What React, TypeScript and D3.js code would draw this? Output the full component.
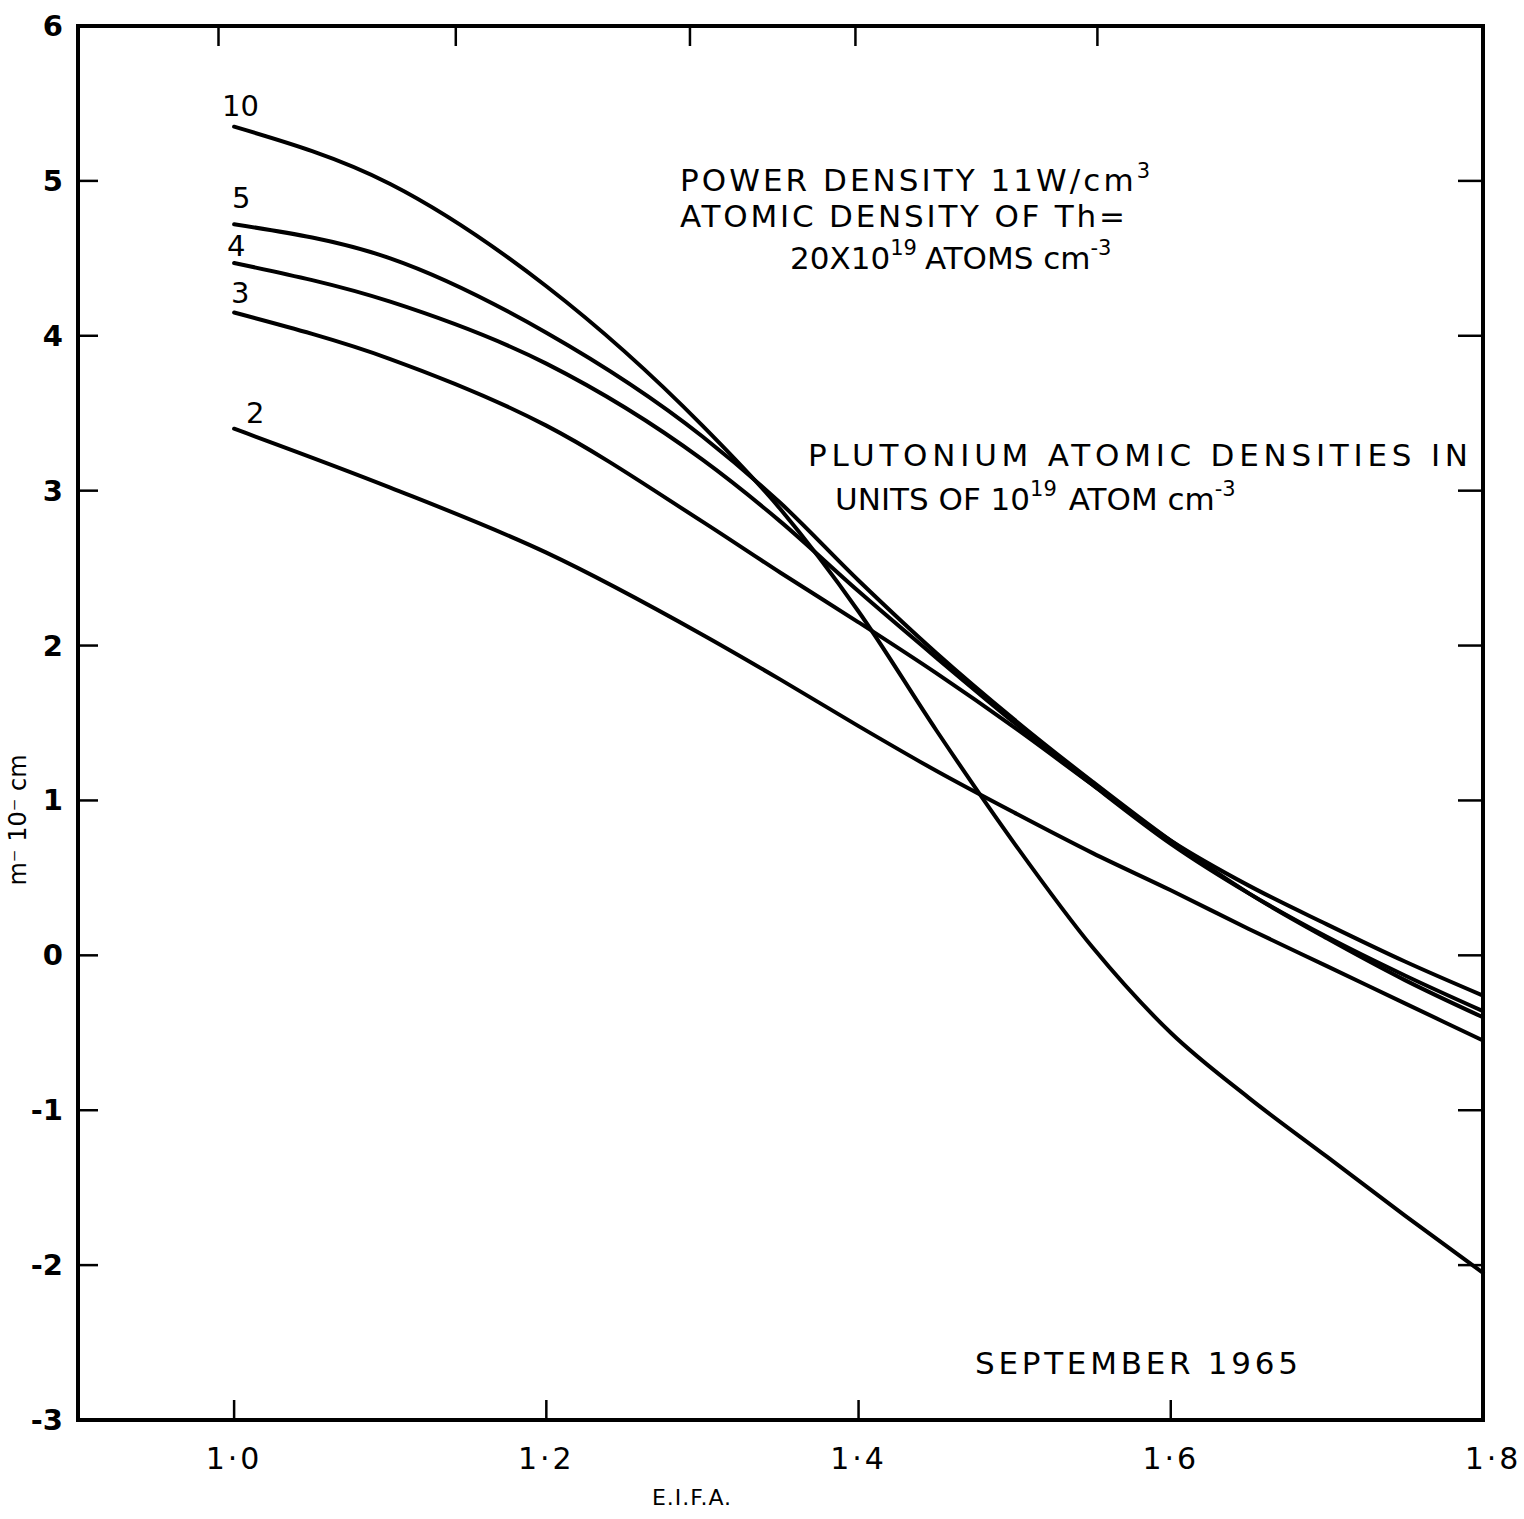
import React from "react";
import * as d3 from "d3";

const xs = [1.0, 1.1, 1.2, 1.3, 1.35, 1.4, 1.45, 1.5, 1.55, 1.6, 1.65, 1.7, 1.75, 1.8];
const curve10 = [5.35, 4.98, 4.32, 3.42, 2.88, 2.22, 1.45, 0.72, 0.05, -0.5, -0.92, -1.3, -1.68, -2.05];
const curve5 = [4.72, 4.5, 4.02, 3.35, 2.92, 2.42, 1.95, 1.52, 1.12, 0.74, 0.4, 0.11, -0.16, -0.4];
const curve4 = [4.47, 4.22, 3.82, 3.2, 2.8, 2.35, 1.92, 1.5, 1.1, 0.72, 0.4, 0.12, -0.13, -0.36];
const curve3 = [4.15, 3.85, 3.42, 2.8, 2.47, 2.15, 1.82, 1.47, 1.1, 0.74, 0.45, 0.2, -0.04, -0.26];
const curve2 = [3.4, 3.02, 2.6, 2.07, 1.78, 1.48, 1.19, 0.92, 0.66, 0.42, 0.17, -0.07, -0.31, -0.55];
const seriesNames = ["10", "5", "4", "3", "2"];
const seriesValues = [curve10, curve5, curve4, curve3, curve2];

const bottomTicks = [1.0, 1.2, 1.4, 1.6];
const bottomTickLabels = ["1·0", "1·2", "1·4", "1·6"];
const lastTickLabel = "1·8";
const topTicks = [0.99, 1.142, 1.292, 1.398, 1.553];
const yTicks = [6, 5, 4, 3, 2, 1, 0, -1, -2, -3];
const yTickLabels = ["6", "5", "4", "3", "2", "1", "0", "-1", "-2", "-3"];

const W = 1524;
const H = 1519;
const x = d3.scaleLinear().domain([0.9, 1.8]).range([78, 1483]);
const y = d3.scaleLinear().domain([-3, 6]).range([1420, 26]);

const FONT = "'DejaVu Sans', sans-serif";

export default function App() {
  const line = d3
    .line<number>()
    .x((_, i) => x(xs[i]))
    .y((d) => y(d))
    .curve(d3.curveMonotoneX);

  const labelPos: Record<string, [number, number]> = {
    "10": [222, 116],
    "5": [232, 208],
    "4": [227, 256],
    "3": [231, 303],
    "2": [246, 423],
  };

  return (
    <svg
      width={W}
      height={H}
      style={{ position: "absolute", left: 0, top: 0, background: "#fff" }}
      fontFamily={FONT}
    >
      <rect x={0} y={0} width={W} height={H} fill="#fff" />
      {/* frame */}
      <rect
        x={x(0.9)}
        y={y(6)}
        width={x(1.8) - x(0.9)}
        height={y(-3) - y(6)}
        fill="none"
        stroke="#000"
        strokeWidth={4}
      />
      {/* left & right ticks */}
      {yTicks.map((t) => (
        <g key={"yt" + t}>
          <line x1={x(0.9)} x2={x(0.9) + 20} y1={y(t)} y2={y(t)} stroke="#000" strokeWidth={2.5} />
          <line x1={x(1.8)} x2={x(1.8) - 25} y1={y(t)} y2={y(t)} stroke="#000" strokeWidth={2.5} />
        </g>
      ))}
      {yTicks.map((t, i) => (
        <text
          key={"yl" + t}
          x={63}
          y={y(t)}
          textAnchor="end"
          dominantBaseline="central"
          fontSize={29}
          fontWeight="bold"
        >
          {yTickLabels[i]}
        </text>
      ))}
      {/* bottom ticks */}
      {bottomTicks.map((t, i) => (
        <g key={"xb" + t}>
          <line x1={x(t)} x2={x(t)} y1={y(-3)} y2={y(-3) - 20} stroke="#000" strokeWidth={2.5} />
          <text x={x(t)} y={1469} textAnchor="middle" fontSize={30} letterSpacing={3}>
            {bottomTickLabels[i]}
          </text>
        </g>
      ))}
      <text x={x(1.8) + 10} y={1469} textAnchor="middle" fontSize={30} letterSpacing={3}>
        {lastTickLabel}
      </text>
      {/* top ticks */}
      {topTicks.map((t) => (
        <line key={"xt" + t} x1={x(t)} x2={x(t)} y1={y(6)} y2={y(6) + 20} stroke="#000" strokeWidth={2.5} />
      ))}
      {/* x axis title */}
      <text x={692} y={1505} textAnchor="middle" fontSize={22} letterSpacing={1}>
        E.I.F.A.
      </text>
      {/* y axis title (partially visible in source) */}
      <text
        transform={`translate(26, 820) rotate(-90)`}
        textAnchor="middle"
        fontSize={24}
      >
        m⁻ 10⁻ cm
      </text>
      {/* curves */}
      {seriesValues.map((vals, i) => (
        <path
          key={"c" + seriesNames[i]}
          d={line(vals) || ""}
          fill="none"
          stroke="#000"
          strokeWidth={4}
          strokeLinecap="round"
        />
      ))}
      {seriesNames.map((n) => (
        <text key={"lab" + n} x={labelPos[n][0]} y={labelPos[n][1]} fontSize={29}>
          {n}
        </text>
      ))}
      {/* annotations */}
      <text x={680} y={191} fontSize={31} textLength={470} lengthAdjust="spacing">
        POWER DENSITY 11W/cm<tspan dy={-13} fontSize={21}>3</tspan>
      </text>
      <text x={680} y={227} fontSize={31} textLength={445} lengthAdjust="spacing">
        ATOMIC DENSITY OF Th=
      </text>
      <text x={790} y={269} fontSize={31}>
        <tspan>20X10</tspan>
        <tspan dy={-14} fontSize={21}>19</tspan>
        <tspan dy={14} dx={8}>ATOMS cm</tspan>
        <tspan dy={-14} fontSize={21}>-3</tspan>
      </text>
      <text x={808} y={466} fontSize={31} textLength={660} lengthAdjust="spacing">
        PLUTONIUM ATOMIC DENSITIES IN
      </text>
      <text x={835} y={510} fontSize={31}>
        <tspan>UNITS OF 10</tspan>
        <tspan dy={-14} fontSize={21}>19</tspan>
        <tspan dy={14} dx={12}>ATOM cm</tspan>
        <tspan dy={-14} fontSize={21}>-3</tspan>
      </text>
      <text x={975} y={1374} fontSize={31} textLength={323} lengthAdjust="spacing">
        SEPTEMBER 1965
      </text>
    </svg>
  );
}
